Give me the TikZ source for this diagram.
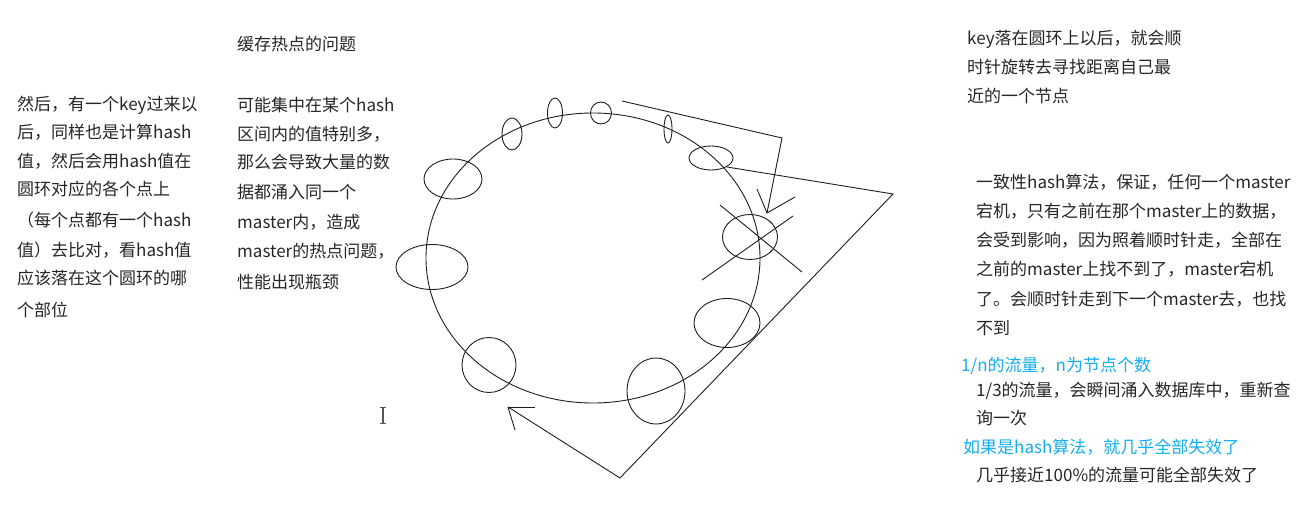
\documentclass[tikz,border=0pt]{standalone}
\usepackage{fontspec}
\setmainfont{Noto Sans CJK SC}
\usetikzlibrary{shapes.geometric}
\definecolor{ink}{HTML}{1E1E1E}
\definecolor{txt}{HTML}{262626}
\definecolor{skyb}{HTML}{12AEEF}
\definecolor{cursor}{HTML}{555555}
\begin{document}
\begin{tikzpicture}[x=1pt,y=-1pt,
  ln/.style={draw=ink,line width=0.9pt},
  nd/.style 2 args={ellipse,draw=ink,line width=0.9pt,inner sep=0pt,minimum width=#1,minimum height=#2},
  tx/.style={anchor=base west,inner sep=0pt,text=txt,font=\fontsize{17}{17}\selectfont},
  bl/.style={anchor=base west,inner sep=0pt,text=skyb,font=\fontsize{17}{17}\selectfont}]
\useasboundingbox (0,0) rectangle (1304,505);
% ring
\node[nd={334pt}{290pt}] (ring) at (593,258) {};
% nodes on the ring
\node[nd={20pt}{32pt}] (e1) at (512,134) {};
\node[nd={15pt}{30pt}] (e2) at (555,113) {};
\node[nd={21pt}{22pt}] (e3) at (601,113) {};
\node[nd={8pt}{28pt}] (e4) at (668,129) {};
\node[nd={44pt}{24pt}] (e5) at (711,158) {};
\node[nd={58pt}{40pt}] (e6) at (453,179) {};
\node[nd={72pt}{45pt}] (e7) at (432,267) {};
\node[nd={54pt}{55pt}] (e8) at (489,365) {};
\node[nd={58pt}{66pt}] (e9) at (656,391) {};
\node[nd={66pt}{49pt}] (e10) at (727,323) {};
\node[nd={55pt}{45pt}] (e11) at (750,237) {};
% cross over e11
\coordinate (xa1) at (720,205); \coordinate (xa2) at (802,272);
\coordinate (xb1) at (793,216); \coordinate (xb2) at (702,280);
\draw[ln] (xa1) -- (xa2);
\draw[ln] (xb1) -- (xb2);
% arrow 1: key rotates clockwise
\coordinate (k0) at (622,101);
\coordinate (k1) at (782,138);
\coordinate (k2) at (767,213);
\draw[ln] (k0) -- (k1) -- (k2);
\draw[ln] (k2) -- (757,189);
\draw[ln] (k2) -- (795,197);
% arrow 2: large loop
\coordinate (p0) at (727,167);
\coordinate (p1) at (893,194);
\coordinate (p2) at (620,478);
\coordinate (p3) at (508,407);
\draw[ln] (p0) -- (p1) -- (p2) -- (p3);
\draw[ln] (p3) -- (535,407);
\draw[ln] (p3) -- (515,430);
% text cursor
\draw[draw=cursor,line width=1.2pt] (383,407) -- (383,423);
\draw[draw=cursor,line width=0.8pt] (380,407) -- (386,407) (380,423) -- (386,423);
% left text
\node[tx] (l1) at (17,111) {然后，有一个key过来以};
\node[tx] (l2) at (17,139) {后，同样也是计算hash};
\node[tx] (l3) at (17,168) {值，然后会用hash值在};
\node[tx] (l4) at (17,196) {圆环对应的各个点上};
\node[tx] (l5) at (17,226) {（每个点都有一个hash};
\node[tx] (l6) at (17,256) {值）去比对，看hash值};
\node[tx] (l7) at (17,284) {应该落在这个圆环的哪};
\node[tx] (l8) at (17,316) {个部位};
% middle text
\node[tx] (m0) at (237,51) {缓存热点的问题};
\node[tx] (m1) at (237,112) {可能集中在某个hash};
\node[tx] (m2) at (237,141) {区间内的值特别多，};
\node[tx] (m3) at (237,169) {那么会导致大量的数};
\node[tx] (m4) at (237,199) {据都涌入同一个};
\node[tx] (m5) at (237,229) {master内，造成};
\node[tx] (m6) at (237,258) {master的热点问题，};
\node[tx] (m7) at (237,288) {性能出现瓶颈};
% right top text
\node[tx] (r1) at (967,45) {key落在圆环上以后，就会顺};
\node[tx] (r2) at (967,74) {时针旋转去寻找距离自己最};
\node[tx] (r3) at (967,103) {近的一个节点};
% right middle text
\node[tx] (s1) at (976,189) {一致性hash算法，保证，任何一个master};
\node[tx] (s2) at (976,218) {宕机，只有之前在那个master上的数据，};
\node[tx] (s3) at (976,247) {会受到影响，因为照着顺时针走，全部在};
\node[tx] (s4) at (976,276) {之前的master上找不到了，master宕机};
\node[tx] (s5) at (976,305) {了。会顺时针走到下一个master去，也找};
\node[tx] (s6) at (976,334) {不到};
% right bottom text
\node[bl] (b1) at (961,371) {1/n的流量，n为节点个数};
\node[tx] (b2) at (976,396) {1/3的流量，会瞬间涌入数据库中，重新查};
\node[tx] (b3) at (976,424) {询一次};
\node[bl] (b4) at (963,453) {如果是hash算法，就几乎全部失效了};
\node[tx] (b5) at (976,481) {几乎接近100\%的流量可能全部失效了};
\end{tikzpicture}
\end{document}
